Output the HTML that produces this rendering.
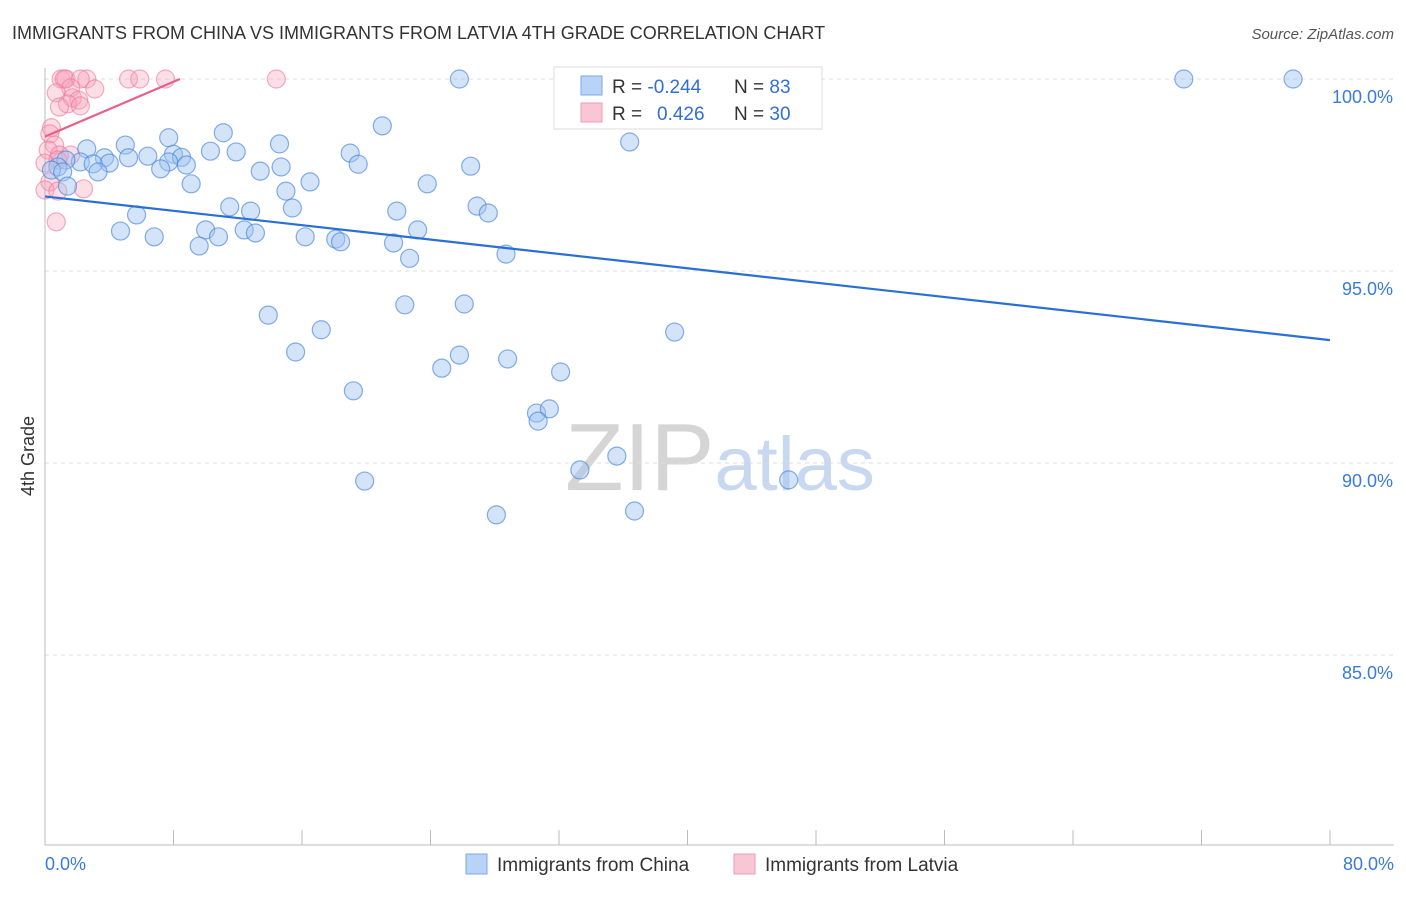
<!DOCTYPE html>
<html><head><meta charset="utf-8">
<style>
body{margin:0;background:#fff;font-family:"Liberation Sans",sans-serif;}
svg text{font-family:"Liberation Sans",sans-serif;}
</style></head>
<body>
<svg id="chart" width="1406" height="892" xmlns="http://www.w3.org/2000/svg">
<text x="12" y="39" font-size="18" fill="#333">IMMIGRANTS FROM CHINA VS IMMIGRANTS FROM LATVIA 4TH GRADE CORRELATION CHART</text>
<text x="1394" y="39" font-size="15" fill="#555" text-anchor="end" font-style="italic">Source: ZipAtlas.com</text>
<text transform="translate(34,456) rotate(-90)" font-size="18" fill="#333" text-anchor="middle">4th Grade</text>
<text x="720" y="490" font-size="96" text-anchor="middle" fill="#ddd" font-family="Liberation Serif"><tspan fill="#d5d5d5">ZIP</tspan><tspan fill="#c8d8f0" font-family="Liberation Sans" font-size="76">atlas</tspan></text>
<g id="grid"></g><g id="axes"></g><g id="pts"></g><g id="trend"></g>
<g>
<rect x="554" y="67" width="268" height="62" fill="#fff" stroke="#ddd"/>
<rect x="581" y="76" width="21" height="19" fill="#b8d3f5" stroke="#7aa8e8"/>
<rect x="581" y="103" width="21" height="19" fill="#f9c6d5" stroke="#f09ab5"/>
<text x="612" y="93" font-size="19" fill="#333">R =  <tspan fill="#2f6fd6">-0.244</tspan></text>
<text x="734" y="93" font-size="19" fill="#333">N =  <tspan fill="#2f6fd6">83</tspan></text>
<text x="612" y="120" font-size="19" fill="#333">R =  <tspan fill="#2f6fd6" x="657">0.426</tspan></text>
<text x="734" y="120" font-size="19" fill="#333">N = <tspan fill="#2f6fd6">30</tspan></text>
</g>
<g>
<rect x="466" y="854" width="21" height="20" fill="#b8d3f5" stroke="#7aa8e8"/>
<text x="497" y="871" font-size="19" fill="#333">Immigrants from China</text>
<rect x="734" y="854" width="21" height="20" fill="#f9c6d5" stroke="#f09ab5"/>
<text x="765" y="871" font-size="19" fill="#333">Immigrants from Latvia</text>
</g>
</svg>
<script>
const chinaX=[25.8,35.1,38.3,70.9,77.7,40.9,21.0,11.1,7.7,14.6,5.0,36.4,2.6,8.0,8.5,10.3,11.9,3.7,5.2,6.4,4.0,7.7,7.2,8.8,19.0,19.5,14.7,13.4,26.5,2.2,3.0,1.3,0.8,0.4,1.1,3.3,9.1,16.5,15.0,23.8,1.4,11.5,12.8,15.4,21.9,26.9,27.6,5.7,4.7,10.0,12.4,13.1,6.8,10.8,9.6,16.2,18.1,18.4,23.2,21.7,22.7,28.7,13.9,22.4,26.1,17.2,39.2,15.6,25.8,28.8,24.7,32.1,19.2,30.6,31.4,30.7,35.6,33.3,46.3,19.9,28.1,36.7];
const chinaY=[100,100,100,100,100,100,98.78,98.60,98.47,98.31,98.28,98.36,98.18,98.04,97.96,98.12,98.10,97.95,97.95,97.99,97.81,97.84,97.66,97.76,98.07,97.78,97.71,97.60,97.73,97.84,97.79,97.89,97.71,97.63,97.58,97.58,97.27,97.32,97.08,97.27,97.21,96.67,96.56,96.64,96.56,96.69,96.51,96.46,96.04,96.07,96.07,95.99,95.89,95.89,95.65,95.89,95.83,95.76,96.07,95.73,95.33,95.44,93.85,94.12,94.14,93.47,93.41,92.89,92.81,92.71,92.47,92.37,91.88,91.30,91.41,91.09,90.18,89.82,89.56,89.53,88.65,88.75,100];
const latviaX=[1.0,1.3,1.2,2.6,2.2,5.2,5.9,7.5,14.4,1.6,3.1,0.7,1.7,2.1,1.4,0.9,2.2,0.4,0.3,0.6,0.2,0.9,1.6,0.8,0.0,0.3,2.4,0.0,0.8,0.7];
const latviaY=[100,100,100,100,100,100,100,100,100,99.77,99.74,99.64,99.51,99.45,99.35,99.27,99.30,98.73,98.57,98.28,98.15,98.02,98.02,97.89,97.81,97.32,97.14,97.11,97.08,96.28];
const xTicks=[0,80];
const yTicks=[100,95,90,85];
const NS="http://www.w3.org/2000/svg";
const L=45,R=1330;
const sx=v=>L+v/80*(R-L);
const sy=v=>79+(100-v)/5*192;
function mk(tag,attrs,parent){const e=document.createElementNS(NS,tag);for(const k in attrs)e.setAttribute(k,attrs[k]);parent.appendChild(e);return e;}
const grid=document.getElementById('grid'),axes=document.getElementById('axes'),pts=document.getElementById('pts'),tr=document.getElementById('trend');
yTicks.forEach(t=>{
 const ln=mk('line',{x1:L,x2:1394,y1:sy(t),y2:sy(t),stroke:'#ddd','stroke-dasharray':'4,4'},grid);
 
 
 const tx=mk('text',{x:1393,y:sy(t)+24,'font-size':18,fill:'#3a7ad9','text-anchor':'end'},axes);
 tx.textContent=t.toFixed(1)+'%';
 
 
});
mk('line',{x1:L,x2:L,y1:68,y2:845,stroke:'#bbb'},axes);
mk('line',{x1:L,x2:1394,y1:845,y2:845,stroke:'#bbb'},axes);
for(let i=1;i<=10;i++){mk('line',{x1:sx(i*8),x2:sx(i*8),y1:830,y2:845,stroke:'#bbb'},axes);}
xTicks.forEach((t,i)=>{
 const tx=mk('text',{x:i==0?45:1394,y:870,'font-size':18,fill:'#3a7ad9','text-anchor':i==0?'start':'end'},axes);
 tx.textContent=t.toFixed(1)+'%';
 
 
});
latviaX.forEach((x,i)=>{
 const c=mk('circle',{cx:sx(x),cy:sy(latviaY[i]),r:9,fill:'rgba(246,160,186,0.35)',stroke:'rgba(236,120,155,0.6)','stroke-width':1.2},pts);
 
 
});
chinaX.forEach((x,i)=>{
 const c=mk('circle',{cx:sx(x),cy:sy(chinaY[i]),r:9,fill:'rgba(160,196,240,0.45)',stroke:'rgba(70,130,220,0.65)','stroke-width':1.2},pts);
 
 
});
function fit(xs,ys){const n=xs.length;let mx=0,my=0;xs.forEach((x,i)=>{mx+=x;my+=ys[i];});mx/=n;my/=n;let a=0,b=0;xs.forEach((x,i)=>{a+=(x-mx)*(ys[i]-my);b+=(x-mx)**2;});const s=a/b;return [s,my-s*mx];}
let [s1,b1]=fit(chinaX,chinaY);
const t1=mk('line',{x1:sx(0),y1:sy(b1),x2:sx(80),y2:sy(b1+s1*80),stroke:'#2a6fd6','stroke-width':2.2},tr);


let [s2,b2]=fit(latviaX,latviaY);
const xe=Math.min(8.7,(100-b2)/s2>0?(100-b2)/s2:8.7);
const t2=mk('line',{x1:sx(0),y1:sy(b2),x2:sx(xe),y2:sy(b2+s2*xe),stroke:'#e8608a','stroke-width':2.2},tr);


</script>
</body></html>
